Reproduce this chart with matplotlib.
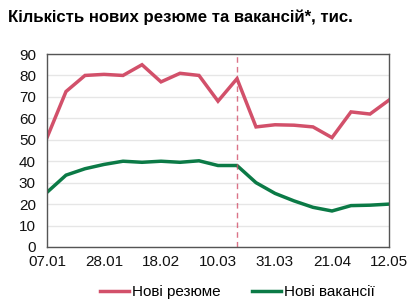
import matplotlib
matplotlib.use("Agg")
import matplotlib.pyplot as plt

plt.rcParams['font.family'] = ['Liberation Sans', 'DejaVu Sans']

# weekly points, 07.01 .. 12.05
weeks = list(range(19))
tick_pos = [0, 3, 6, 9, 12, 15, 18]
tick_labels = ["07.01", "28.01", "18.02", "10.03", "31.03", "21.04", "12.05"]

resumes = [51, 72.5, 80, 80.5, 80, 85, 77, 81, 80, 68, 78.5,
           56, 57, 56.8, 56, 51, 63, 62, 68.5]
vacancies = [25.5, 33.5, 36.5, 38.5, 40, 39.5, 40, 39.5, 40.2, 38, 38,
             30, 25, 21.5, 18.5, 16.8, 19.3, 19.5, 20]
quarantine_week = 10

red = "#d2506a"
green = "#0b7a46"

fig = plt.figure(figsize=(4.2, 3.08), dpi=100)
ax = fig.add_axes([47 / 420, 1 - 247 / 308, (389 - 47) / 420, (247 - 54) / 308])

ax.plot(weeks, resumes, color=red, lw=2.5, label="Нові резюме", solid_joinstyle="miter")
ax.plot(weeks, vacancies, color=green, lw=2.5, label="Нові вакансії", solid_joinstyle="miter")
ax.axvline(quarantine_week, color=red, lw=1, ls=(0, (4, 3)), alpha=0.8)

ax.set_xlim(0, 18)
ax.set_ylim(0, 90)
ax.set_yticks(range(0, 91, 10))
ax.set_xticks(tick_pos)
ax.set_xticklabels(tick_labels)
ax.tick_params(length=0, labelsize=11, pad=6, colors="#111111")
ax.tick_params(axis="y", pad=8)
ax.grid(axis="y", color="#e6e6e6", lw=1)
ax.set_axisbelow(True)
for s in ax.spines.values():
    s.set_color("#555555")
    s.set_linewidth(1)

fig.text(8 / 420, 1 - 17 / 308, "Кількість нових резюме та вакансій*, тис.",
         fontsize=12.1, fontweight="bold", va="center", ha="left")

fig.legend(loc="center", bbox_to_anchor=(0.565, 1 - 292 / 308), ncol=2,
           frameon=False, fontsize=11, handlelength=1.9, handletextpad=0.2,
           columnspacing=2.0)

fig.savefig("out.png", dpi=100)
